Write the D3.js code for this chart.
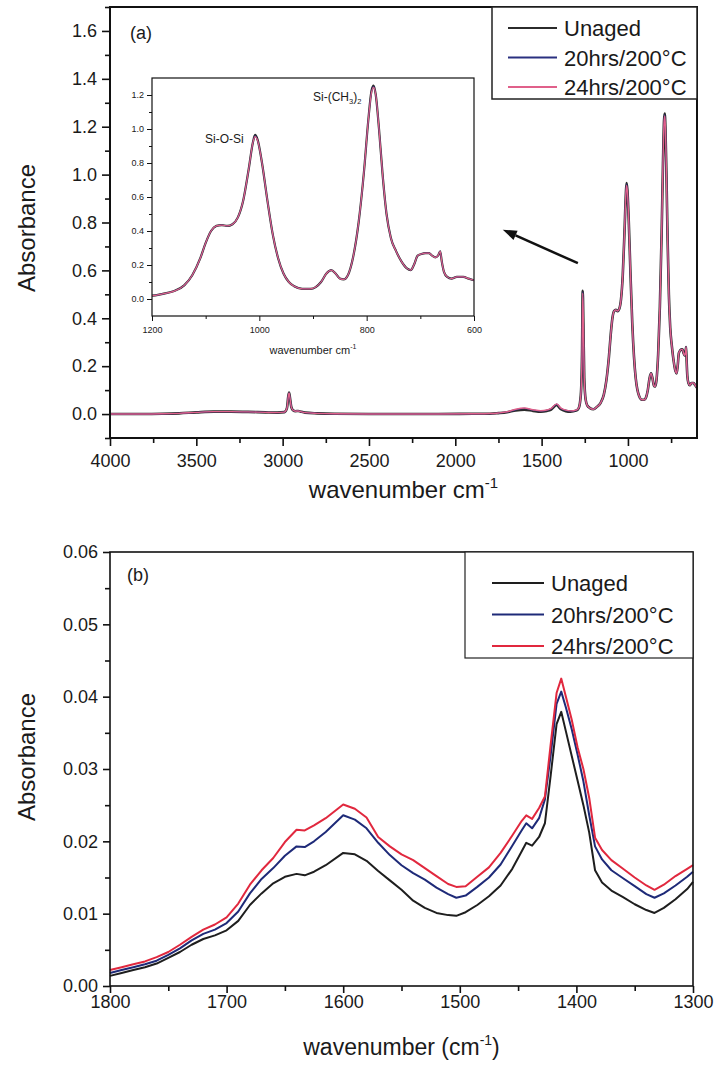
<!DOCTYPE html>
<html><head><meta charset="utf-8">
<script src="https://cdn.jsdelivr.net/npm/d3@7"></script>
<style>
body{margin:0;background:#fff}
svg{display:block}
text{font-family:"Liberation Sans",Arial,Helvetica,sans-serif;fill:#1a1a1a}
</style>
</head><body>
<svg id="c" width="720" height="1066"></svg>
<script>
// ---------------- DATA ----------------
const seriesNames = ["Unaged", "20hrs/200\u00B0C", "24hrs/200\u00B0C"];

// Panel (a): full spectrum, wavenumber (cm-1) vs absorbance
const wnA = [4000,3900,3800,3700,3600,3500,3400,3300,3200,3100,
  3030,2990,2975,2968,2963,2958,2950,2940,2925,2910,2895,2870,2800,2700,
  2500,2300,2100,1900,
  1800,1750,1700,1650,1600,1550,1505,1470,1445,1413,1390,1360,1333,1300,
  1285,1273,1266,1262,1258,1253,1245,1235,1220,1200,
  1180,1160,1140,1125,1110,1100,1090,1080,1070,1060,
  1050,1040,1030,1020,1012,1008,1003,995,985,975,
  965,955,945,935,920,905,895,885,875,866,
  858,850,843,835,825,815,805,797,791,787,
  783,777,770,763,755,745,735,725,718,712,
  705,698,690,684,678,672,667,663,660,656,
  650,642,632,620,610,600];
const absA_unaged = [0.000,0.000,0.000,0.001,0.003,0.007,0.010,0.010,0.009,0.007,
  0.006,0.008,0.025,0.070,0.090,0.070,0.030,0.016,0.012,0.013,0.010,0.006,0.003,0.001,
  0.000,0.000,0.000,0.001,
  0.0014,0.0039,0.0077,0.0151,0.0184,0.0133,0.0097,0.013,0.019,0.038,0.021,0.0123,0.0101,0.0144,
  0.025,0.08,0.25,0.515,0.38,0.15,0.06,0.035,0.025,0.020,
  0.030,0.045,0.080,0.140,0.240,0.330,0.400,0.430,0.435,0.430,
  0.440,0.480,0.580,0.760,0.920,0.965,0.935,0.800,0.580,0.380,
  0.240,0.150,0.100,0.075,0.060,0.060,0.070,0.100,0.150,0.170,
  0.150,0.120,0.115,0.140,0.250,0.450,0.750,1.050,1.225,1.255,
  1.200,1.000,0.720,0.500,0.360,0.280,0.220,0.180,0.170,0.200,
  0.255,0.265,0.270,0.270,0.255,0.245,0.255,0.280,0.220,0.160,
  0.130,0.120,0.130,0.130,0.120,0.110];
const absA_20h = [0.000,0.000,0.000,0.001,0.003,0.007,0.010,0.010,0.009,0.007,
  0.006,0.008,0.025,0.070,0.088,0.070,0.030,0.016,0.012,0.013,0.010,0.006,0.003,0.001,
  0.000,0.000,0.000,0.001,
  0.0018,0.0043,0.0087,0.0180,0.0236,0.0167,0.0122,0.015,0.022,0.041,0.024,0.0149,0.0122,0.0158,
  0.026,0.08,0.25,0.51,0.38,0.15,0.06,0.035,0.025,0.020,
  0.030,0.045,0.080,0.140,0.240,0.330,0.400,0.430,0.435,0.430,
  0.440,0.480,0.580,0.760,0.920,0.960,0.930,0.800,0.580,0.380,
  0.240,0.150,0.100,0.075,0.060,0.060,0.070,0.100,0.150,0.170,
  0.150,0.120,0.115,0.140,0.250,0.450,0.750,1.050,1.220,1.250,
  1.200,1.000,0.720,0.500,0.360,0.280,0.220,0.180,0.170,0.200,
  0.255,0.265,0.270,0.270,0.255,0.245,0.255,0.280,0.220,0.160,
  0.130,0.120,0.130,0.130,0.120,0.110];
const absA_24h = [0.000,0.000,0.000,0.001,0.003,0.007,0.010,0.010,0.009,0.007,
  0.006,0.008,0.025,0.070,0.088,0.070,0.030,0.016,0.012,0.013,0.010,0.006,0.003,0.001,
  0.000,0.000,0.000,0.001,
  0.0022,0.0047,0.0095,0.0199,0.0251,0.0182,0.0137,0.017,0.024,0.0425,0.026,0.0162,0.0133,0.0167,
  0.026,0.08,0.25,0.505,0.38,0.15,0.06,0.035,0.025,0.020,
  0.030,0.045,0.080,0.140,0.240,0.330,0.400,0.430,0.435,0.430,
  0.440,0.480,0.580,0.760,0.920,0.955,0.930,0.800,0.580,0.380,
  0.240,0.150,0.100,0.075,0.060,0.060,0.070,0.100,0.150,0.170,
  0.150,0.120,0.115,0.140,0.250,0.450,0.750,1.050,1.215,1.245,
  1.200,1.000,0.720,0.500,0.360,0.280,0.220,0.180,0.170,0.200,
  0.255,0.265,0.270,0.270,0.255,0.245,0.255,0.280,0.220,0.160,
  0.130,0.120,0.130,0.130,0.120,0.110];

// Panel (b): 1800-1300 cm-1 detail
const wnB = [1800,1790,1780,1770,1760,1750,1740,1730,1720,1710,1700,
  1690,1680,1670,1660,1650,1640,1633,1625,1615,1600,
  1590,1580,1570,1560,1550,1540,1530,1520,1510,
  1503,1495,1485,1475,1465,1455,1447,1443,1438,1432,1427,1422,1417,1413,1409,
  1404,1399,1394,1389,1384,1378,1370,1360,1350,1340,1333,1325,1315,1305,1300];
const absB_unaged = [0.0014,0.0018,0.0022,0.0026,0.0031,0.0039,0.0047,0.0057,0.0065,0.0070,0.0077,
  0.0090,0.0112,0.0128,0.0142,0.0151,0.0155,0.0153,0.0158,0.0167,0.0184,
  0.0182,0.0173,0.0159,0.0146,0.0133,0.0118,0.0108,0.0101,0.0098,
  0.0097,0.0102,0.0112,0.0124,0.0139,0.0162,0.0186,0.0198,0.0194,0.0206,0.0225,0.0292,0.0362,0.0379,0.0352,
  0.0318,0.0284,0.0250,0.0212,0.0160,0.0143,0.0132,0.0123,0.0113,0.0105,0.0101,0.0108,0.0120,0.0134,0.0144];
const absB_20h = [0.0018,0.0022,0.0026,0.0030,0.0035,0.0043,0.0052,0.0063,0.0072,0.0078,0.0087,
  0.0103,0.0128,0.0148,0.0163,0.0180,0.0193,0.0192,0.0200,0.0213,0.0236,
  0.0230,0.0218,0.0198,0.0181,0.0167,0.0156,0.0147,0.0136,0.0127,
  0.0122,0.0125,0.0137,0.0150,0.0168,0.0194,0.0215,0.0225,0.0218,0.0232,0.0258,0.0320,0.0390,0.0407,0.0385,
  0.0355,0.0320,0.0283,0.0236,0.0193,0.0175,0.0160,0.0149,0.0138,0.0127,0.0122,0.0128,0.0139,0.0151,0.0158];
const absB_24h = [0.0022,0.0026,0.0030,0.0034,0.0040,0.0047,0.0057,0.0068,0.0078,0.0085,0.0095,
  0.0114,0.0140,0.0160,0.0177,0.0199,0.0216,0.0215,0.0222,0.0232,0.0251,
  0.0245,0.0233,0.0206,0.0193,0.0182,0.0174,0.0163,0.0152,0.0141,
  0.0137,0.0138,0.0151,0.0164,0.0184,0.0208,0.0228,0.0236,0.0231,0.0246,0.0262,0.0335,0.0405,0.0425,0.0400,
  0.0368,0.0330,0.0300,0.0260,0.0205,0.0188,0.0174,0.0162,0.0150,0.0139,0.0133,0.0140,0.0152,0.0162,0.0167];

// Axis ticks
const xTicksA = [4000,3500,3000,2500,2000,1500,1000];
const xMinorA = [3750,3250,2750,2250,1750,1250,750];
const yTicksA = [0.0,0.2,0.4,0.6,0.8,1.0,1.2,1.4,1.6];
const yMinorA = [-0.1,0.1,0.3,0.5,0.7,0.9,1.1,1.3,1.5,1.7];
const xTicksIn = [1200,1000,800,600];
const xMinorIn = [1100,900,700];
const yTicksIn = [0.0,0.2,0.4,0.6,0.8,1.0,1.2];
const yMinorIn = [0.1,0.3,0.5,0.7,0.9,1.1];
const xTicksB = [1800,1700,1600,1500,1400,1300];
const xMinorB = [1750,1650,1550,1450,1350];
const yTicksB = [0.00,0.01,0.02,0.03,0.04,0.05,0.06];
const yMinorB = [0.005,0.015,0.025,0.035,0.045,0.055];

// ---------------- LAYOUT / STYLE ----------------
const colA = ["#2b2b2b", "#2a3080", "#e0608a"];
const colB = ["#1e1e1e", "#1e2a78", "#e1283e"];
const svg = d3.select("#c");

function styleAxis(g, fs){
  g.selectAll("text").attr("font-size", fs).attr("font-family", '"Liberation Sans", Arial, sans-serif').attr("fill","#1a1a1a");
  g.selectAll("line").attr("stroke", "#111");
  g.select(".domain").remove();
}
function drawAxes(g, x, y, o){
  const bottom = y.range()[0], left = x.range()[0];
  g.append("g").attr("transform", `translate(0,${bottom})`)
    .call(d3.axisBottom(x).tickValues(o.xt).tickSize(o.ts).tickPadding(o.xpad).tickFormat(o.xf))
    .call(s => styleAxis(s, o.fs)).selectAll("line").attr("stroke-width", o.tw);
  g.append("g").attr("transform", `translate(0,${bottom})`)
    .call(d3.axisBottom(x).tickValues(o.xm).tickSize(o.ms).tickFormat(""))
    .call(s => styleAxis(s, o.fs)).selectAll("line").attr("stroke-width", o.tw);
  g.append("g").attr("transform", `translate(${left},0)`)
    .call(d3.axisLeft(y).tickValues(o.yt).tickSize(o.ts).tickPadding(o.ypad).tickFormat(o.yf))
    .call(s => styleAxis(s, o.fs)).selectAll("line").attr("stroke-width", o.tw);
  g.append("g").attr("transform", `translate(${left},0)`)
    .call(d3.axisLeft(y).tickValues(o.ym).tickSize(o.ms).tickFormat(""))
    .call(s => styleAxis(s, o.fs)).selectAll("line").attr("stroke-width", o.tw);
  g.append("rect").attr("x", left).attr("y", y.range()[1])
    .attr("width", x.range()[1]-left).attr("height", bottom - y.range()[1])
    .attr("fill","none").attr("stroke","#111").attr("stroke-width", o.fw);
}

// ---------------- PANEL (a) ----------------
const A = {l:110, r:697, t:7, b:438};
const xA = d3.scaleLinear().domain([4000, 600]).range([A.l, A.r]);
const yA = d3.scaleLinear().domain([-0.1, 1.7]).range([A.b, A.t]);
const gA = svg.append("g");
svg.append("clipPath").attr("id","clipA").append("rect")
  .attr("x",A.l).attr("y",A.t).attr("width",A.r-A.l).attr("height",A.b-A.t);
const seriesA = [absA_unaged, absA_20h, absA_24h];
const lineA = d3.line().x((d,i)=>xA(wnA[i])).y(d=>yA(d)).curve(d3.curveMonotoneX);
const widthsA = [2.6, 1.3, 1.4];
seriesA.forEach((s,k)=>{
  gA.append("path").datum(s).attr("d", lineA).attr("fill","none")
    .attr("stroke", colA[k]).attr("stroke-width", widthsA[k]).attr("clip-path","url(#clipA)");
});
drawAxes(gA, xA, yA, {xt:xTicksA, xm:xMinorA, yt:yTicksA, ym:yMinorA, ts:8, ms:5, xpad:8, ypad:5,
  xf:d3.format("d"), yf:d3.format(".1f"), fs:18, tw:1.6, fw:2});
gA.append("text").attr("x",130).attr("y",39).attr("font-size",18).text("(a)");
gA.append("text").attr("x",(A.l+A.r)/2).attr("y",498).attr("text-anchor","middle").attr("font-size",24)
  .call(t=>{t.append("tspan").text("wavenumber cm");
            t.append("tspan").attr("font-size",15).attr("dy",-10).text("-1");});
gA.append("text").attr("transform",`translate(35,228) rotate(-90)`).attr("text-anchor","middle")
  .attr("font-size",24).text("Absorbance");

// Legend (a)
const legA = gA.append("g");
legA.append("rect").attr("x",492).attr("y",A.t).attr("width",A.r-492).attr("height",92)
  .attr("fill","#fff").attr("stroke","#222").attr("stroke-width",1.5);
seriesNames.forEach((n,k)=>{
  const yy = 28 + k*29.5;
  legA.append("line").attr("x1",508).attr("x2",557).attr("y1",yy).attr("y2",yy)
    .attr("stroke",colA[k]).attr("stroke-width",2);
  legA.append("text").attr("x",564).attr("y",yy+8).attr("font-size",22).text(n);
});

// Arrow pointing from the main peaks to the inset
const arrowFrom = [1290, 0.63], arrowTo = [1725, 0.77];
{
  const x1 = xA(arrowFrom[0]), y1 = yA(arrowFrom[1]), x2 = xA(arrowTo[0]), y2 = yA(arrowTo[1]);
  const ang = Math.atan2(y2-y1, x2-x1), L = 14, W = 5;
  const bx = x2 - L*Math.cos(ang), by = y2 - L*Math.sin(ang);
  gA.append("line").attr("x1",x1).attr("y1",y1).attr("x2",bx).attr("y2",by)
    .attr("stroke","#111").attr("stroke-width",2.5);
  gA.append("path").attr("d",`M${x2},${y2}L${bx - W*Math.sin(ang)},${by + W*Math.cos(ang)}L${bx + W*Math.sin(ang)},${by - W*Math.cos(ang)}Z`)
    .attr("fill","#111");
}

// Inset
const I = {l:152, r:474, t:78, b:316};
const xI = d3.scaleLinear().domain([1200, 600]).range([I.l, I.r]);
const yI = d3.scaleLinear().domain([-0.1, 1.3]).range([I.b, I.t]);
const gI = svg.append("g");
gI.append("rect").attr("x",I.l).attr("y",I.t).attr("width",I.r-I.l).attr("height",I.b-I.t).attr("fill","#fff");
svg.append("clipPath").attr("id","clipI").append("rect")
  .attr("x",I.l).attr("y",I.t).attr("width",I.r-I.l).attr("height",I.b-I.t);
const lineI = d3.line().defined((d,i)=>wnA[i] <= 1260).x((d,i)=>xI(wnA[i])).y(d=>yI(d)).curve(d3.curveMonotoneX);
const widthsI = [2.2, 1.1, 1.2];
seriesA.forEach((s,k)=>{
  gI.append("path").datum(s).attr("d", lineI).attr("fill","none")
    .attr("stroke", colA[k]).attr("stroke-width", widthsI[k]).attr("clip-path","url(#clipI)");
});
drawAxes(gI, xI, yI, {xt:xTicksIn, xm:xMinorIn, yt:yTicksIn, ym:yMinorIn, ts:5, ms:3, xpad:6, ypad:3,
  xf:d3.format("d"), yf:d3.format(".1f"), fs:9, tw:1, fw:1.2});
gI.append("text").attr("x",(I.l+I.r)/2).attr("y",354).attr("text-anchor","middle").attr("font-size",11)
  .call(t=>{t.append("tspan").text("wavenumber cm");
            t.append("tspan").attr("font-size",7).attr("dy",-5).text("-1");});
gI.append("text").attr("x",205).attr("y",143).attr("font-size",12).text("Si-O-Si");
gI.append("text").attr("x",313).attr("y",101).attr("font-size",12)
  .call(t=>{t.append("tspan").text("Si-(CH");
            t.append("tspan").attr("font-size",7.5).attr("dy",3).text("3");
            t.append("tspan").attr("dy",-3).text(")");
            t.append("tspan").attr("font-size",7.5).attr("dy",3).text("2");});

// ---------------- PANEL (b) ----------------
const B = {l:110, r:693, t:552, b:986};
const xB = d3.scaleLinear().domain([1800, 1300]).range([B.l, B.r]);
const yB = d3.scaleLinear().domain([0, 0.06]).range([B.b, B.t]);
const gB = svg.append("g");
const seriesB = [absB_unaged, absB_20h, absB_24h];
const lineB = d3.line().x((d,i)=>xB(wnB[i])).y(d=>yB(d));
seriesB.forEach((s,k)=>{
  gB.append("path").datum(s).attr("d", lineB).attr("fill","none")
    .attr("stroke", colB[k]).attr("stroke-width", 2).attr("stroke-linejoin","round");
});
drawAxes(gB, xB, yB, {xt:xTicksB, xm:xMinorB, yt:yTicksB, ym:yMinorB, ts:7, ms:5, xpad:2, ypad:5,
  xf:d3.format("d"), yf:d3.format(".2f"), fs:18, tw:1.6, fw:1.6});
gB.append("text").attr("x",127).attr("y",581).attr("font-size",18).text("(b)");
gB.append("text").attr("x",(B.l+B.r)/2).attr("y",1055).attr("text-anchor","middle").attr("font-size",23)
  .call(t=>{t.append("tspan").text("wavenumber (cm");
            t.append("tspan").attr("font-size",14).attr("dy",-10).text("-1");
            t.append("tspan").attr("dy",10).text(")");});
gB.append("text").attr("transform",`translate(35,757) rotate(-90)`).attr("text-anchor","middle")
  .attr("font-size",24).text("Absorbance");

const legB = gB.append("g");
legB.append("rect").attr("x",465).attr("y",B.t).attr("width",B.r-465).attr("height",106)
  .attr("fill","#fff").attr("stroke","#222").attr("stroke-width",1.2);
seriesNames.forEach((n,k)=>{
  const yy = 583 + k*31.5;
  legB.append("line").attr("x1",492).attr("x2",544).attr("y1",yy).attr("y2",yy)
    .attr("stroke",colB[k]).attr("stroke-width",2.2);
  legB.append("text").attr("x",551).attr("y",yy+8).attr("font-size",22).text(n);
});
</script>
</body></html>
